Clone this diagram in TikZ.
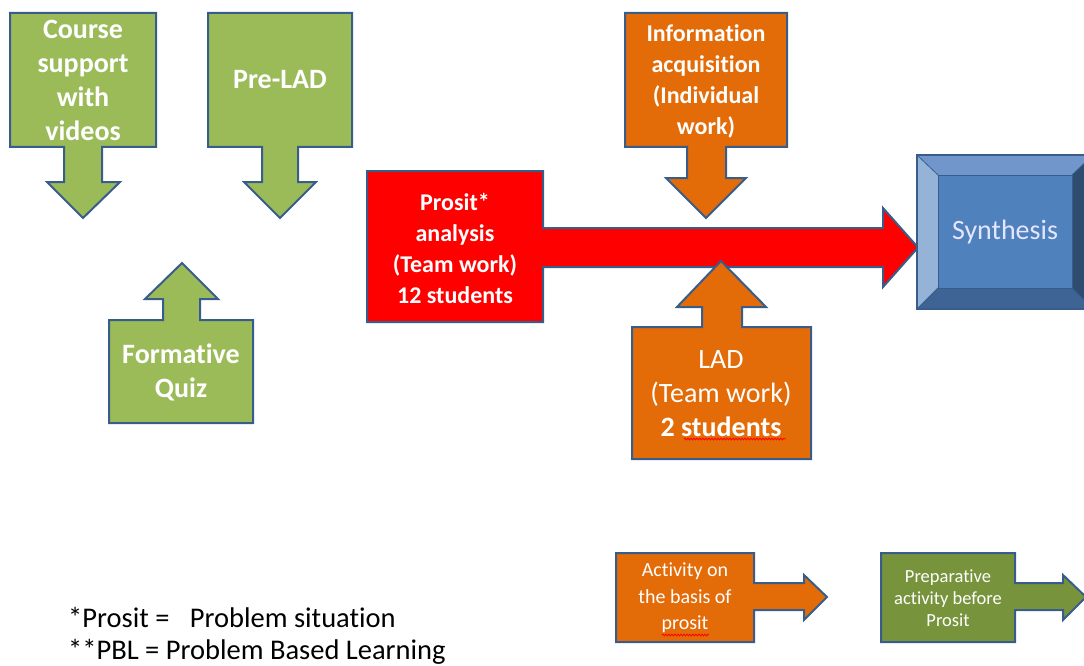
\documentclass[tikz,border=0pt]{standalone}
\usepackage{fontspec}
\setmainfont[Ligatures=NoCommon]{Carlito}
\usetikzlibrary{decorations.pathmorphing}
\definecolor{gfill}{HTML}{9BBB59}
\definecolor{dgfill}{HTML}{77933C}
\definecolor{ofill}{HTML}{E36C09}
\definecolor{rfill}{HTML}{FF0000}
\definecolor{bline}{HTML}{385D8A}
\definecolor{synC}{HTML}{4F81BD}
\definecolor{synT}{HTML}{7096CB}
\definecolor{synL}{HTML}{95B3D7}
\definecolor{synB}{HTML}{3D6494}
\definecolor{synR}{HTML}{2E4B70}
\begin{document}
\begin{tikzpicture}[x=1pt,y=-1pt,
  blk/.style={draw=bline,line width=2pt,line join=miter},
  txt/.style={text=white,align=center,inner sep=0pt},
  big/.style={font=\bfseries\fontsize{28}{34}\selectfont},
  mid/.style={font=\bfseries\fontsize{24}{31}\selectfont},
  squig/.style={draw=red,line width=0.8pt,decorate,decoration={snake,segment length=3pt,amplitude=0.9pt}}]
\useasboundingbox (0,0) rectangle (1084,666);
% green callouts
\filldraw[blk,fill=gfill] (10,13) -- (156,13) -- (156,147) -- (102,147) -- (102,182) -- (120,182) -- (83,218) -- (47,182) -- (64,182) -- (64,147) -- (10,147) -- cycle;
\filldraw[blk,fill=gfill] (208,13) -- (352,13) -- (352,147) -- (298,147) -- (298,182) -- (316,182) -- (280,218) -- (244,182) -- (262,182) -- (262,147) -- (208,147) -- cycle;
\filldraw[blk,fill=gfill] (109,423) -- (109,320) -- (163,320) -- (163,299) -- (145,299) -- (182,263) -- (218,299) -- (200,299) -- (200,320) -- (253,320) -- (253,423) -- cycle;
% red prosit arrow
\filldraw[blk,fill=rfill] (367,171) -- (543,171) -- (543,228) -- (883,228) -- (883,208) -- (918,247.5) -- (883,287) -- (883,267) -- (543,267) -- (543,322) -- (367,322) -- cycle;
% orange callouts
\filldraw[blk,fill=ofill] (625,13) -- (787,13) -- (787,147) -- (726,147) -- (726,178) -- (746,178) -- (706,218) -- (666,178) -- (687,178) -- (687,147) -- (625,147) -- cycle;
\filldraw[blk,fill=ofill] (632,459) -- (632,327) -- (702,327) -- (702,307) -- (677,307) -- (721,261) -- (766,307) -- (742,307) -- (742,327) -- (811,327) -- (811,459) -- cycle;
% synthesis bevel box
\fill[synT] (917,155) -- (1093,155) -- (1072,175) -- (938,175) -- cycle;
\fill[synL] (917,155) -- (938,175) -- (938,288) -- (917,309) -- cycle;
\fill[synB] (917,309) -- (938,288) -- (1072,288) -- (1093,309) -- cycle;
\fill[synR] (1093,155) -- (1072,175) -- (1072,288) -- (1093,309) -- cycle;
\filldraw[fill=synC,draw=bline,line width=0.8pt] (938,175) rectangle (1072,288);
\draw[bline,line width=0.8pt] (917,155) -- (938,175) (1093,155) -- (1072,175) (917,309) -- (938,288) (1093,309) -- (1072,288);
\draw[blk] (917,155) rectangle (1093,309);
% legend arrows
\filldraw[blk,fill=ofill] (616,553) -- (754,553) -- (754,583) -- (804,583) -- (804,575) -- (827,597) -- (804,620) -- (804,610) -- (754,610) -- (754,642) -- (616,642) -- cycle;
\filldraw[blk,fill=dgfill] (881,553) -- (1015,553) -- (1015,583) -- (1063,583) -- (1063,575) -- (1086,597) -- (1063,620) -- (1063,610) -- (1015,610) -- (1015,642) -- (881,642) -- cycle;
% texts
\node[txt,big] (course) at (83,80) {Course\\support\\with\\videos};
\node[txt,big] (prelad) at (280,80) {Pre-LAD};
\node[txt,big] (quiz) at (181,372) {Formative\\Quiz};
\node[txt,mid] (prosit) at (455,249) {Prosit*\\analysis\\(Team work)\\12 students};
\node[txt,mid] (info) at (706,81) {Information\\acquisition\\(Individual\\work)};
\node[txt,font=\fontsize{28}{34}\selectfont] (lad) at (721,394) {LAD\\(Team work)\\\textbf{2 students}};
\node[txt,font=\fontsize{28}{34}\selectfont,text=white!90!blue] (syn) at (1005,232) {Synthesis};
\node[txt,font=\fontsize{20}{26.5}\selectfont] (act) at (685,598) {Activity on\\the basis of\\prosit};
\node[txt,font=\fontsize{18.5}{22}\selectfont] (prep) at (948,598) {Preparative\\activity before\\Prosit};
\node[anchor=west,inner sep=0pt,font=\fontsize{28.5}{34}\selectfont] (leg1) at (68,617) {*Prosit =\hspace{14pt} Problem situation};
\node[anchor=west,inner sep=0pt,font=\fontsize{28.5}{34}\selectfont] (leg2) at (68,652) {**PBL = Problem Based Learning};
% spell-check squiggles
\draw[squig] (427,306) -- (514,306);
\draw[squig] (684,439) -- (786,439);
\draw[squig] (662,635) -- (709,635);
\end{tikzpicture}
\end{document}
